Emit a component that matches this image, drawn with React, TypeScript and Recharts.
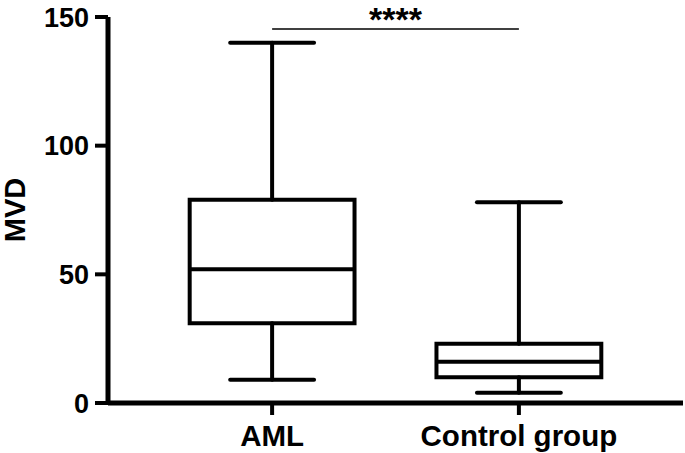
import { ComposedChart, XAxis, YAxis, Scatter, ReferenceArea, ReferenceLine } from 'recharts';

// box plot stats
const groups = ['AML', 'Control group'];
const positions = [1, 2];
const minValues = [9, 4];
const q1Values = [31, 10];
const medianValues = [52, 16];
const q3Values = [79, 23];
const maxValues = [140, 78];
const yTicks = [0, 50, 100, 150];
const sigLabel = '****';
const sigLevel = 145.3;

const BOX_HALF = 0.334;
const CAP_HALF = 0.17;
const FONT = '"Liberation Sans", Arial, sans-serif';

const boxes = groups.map((name, i) => ({
  name,
  x: positions[i],
  min: minValues[i],
  q1: q1Values[i],
  median: medianValues[i],
  q3: q3Values[i],
  max: maxValues[i],
}));

const line = { stroke: '#000', strokeWidth: 4, strokeLinecap: 'round' as const };

export default function App() {
  return (
    <div style={{ position: 'absolute', left: 0, top: 0, background: '#fff' }}>
      <ComposedChart width={685} height={453} margin={{ top: 17, right: 2, bottom: 0, left: 0 }}>
        <XAxis
          type="number"
          dataKey="x"
          domain={[0.335, 2.665]}
          ticks={positions}
          tickFormatter={(v: number) => groups[positions.indexOf(v)] ?? ''}
          height={50}
          tickSize={12}
          tickMargin={10}
          axisLine={{ stroke: '#000', strokeWidth: 5 }}
          tickLine={{ stroke: '#000', strokeWidth: 4 }}
          tick={{ fill: '#000', fontSize: 29.5, fontWeight: 700, fontFamily: FONT }}
        />
        <YAxis
          type="number"
          dataKey="median"
          domain={[0, 150]}
          ticks={yTicks}
          width={108}
          tickSize={13}
          tickMargin={6}
          axisLine={{ stroke: '#000', strokeWidth: 5 }}
          tickLine={{ stroke: '#000', strokeWidth: 4 }}
          tick={{ fill: '#000', fontSize: 27, fontWeight: 700, fontFamily: FONT }}
          label={{
            value: 'MVD',
            angle: -90,
            position: 'insideLeft',
            offset: 15,
            style: { textAnchor: 'middle', fill: '#000', fontSize: 29, fontWeight: 700, fontFamily: FONT },
          }}
        />
        <Scatter data={boxes} dataKey="median" shape={() => null} isAnimationActive={false} />

        {boxes.map((b) => (
          <ReferenceLine key={b.name + '-up'} segment={[{ x: b.x, y: b.q3 }, { x: b.x, y: b.max }]} {...line} />
        ))}
        {boxes.map((b) => (
          <ReferenceLine key={b.name + '-down'} segment={[{ x: b.x, y: b.min }, { x: b.x, y: b.q1 }]} {...line} />
        ))}
        {boxes.map((b) => (
          <ReferenceLine key={b.name + '-capmax'} segment={[{ x: b.x - CAP_HALF, y: b.max }, { x: b.x + CAP_HALF, y: b.max }]} {...line} />
        ))}
        {boxes.map((b) => (
          <ReferenceLine key={b.name + '-capmin'} segment={[{ x: b.x - CAP_HALF, y: b.min }, { x: b.x + CAP_HALF, y: b.min }]} {...line} />
        ))}
        {boxes.map((b) => (
          <ReferenceArea
            key={b.name + '-box'}
            x1={b.x - BOX_HALF}
            x2={b.x + BOX_HALF}
            y1={b.q1}
            y2={b.q3}
            fill="#fff"
            fillOpacity={1}
            stroke="#000"
            strokeWidth={4}
          />
        ))}
        {boxes.map((b) => (
          <ReferenceLine
            key={b.name + '-median'}
            segment={[{ x: b.x - BOX_HALF, y: b.median }, { x: b.x + BOX_HALF, y: b.median }]}
            stroke="#000"
            strokeWidth={4}
          />
        ))}

        <ReferenceLine
          segment={[{ x: positions[0], y: sigLevel }, { x: positions[1], y: sigLevel }]}
          stroke="#000"
          strokeWidth={1.5}
          label={{ value: sigLabel, position: 'top', offset: -2, fill: '#000', fontSize: 34, fontWeight: 700, fontFamily: FONT }}
        />
      </ComposedChart>
    </div>
  );
}
